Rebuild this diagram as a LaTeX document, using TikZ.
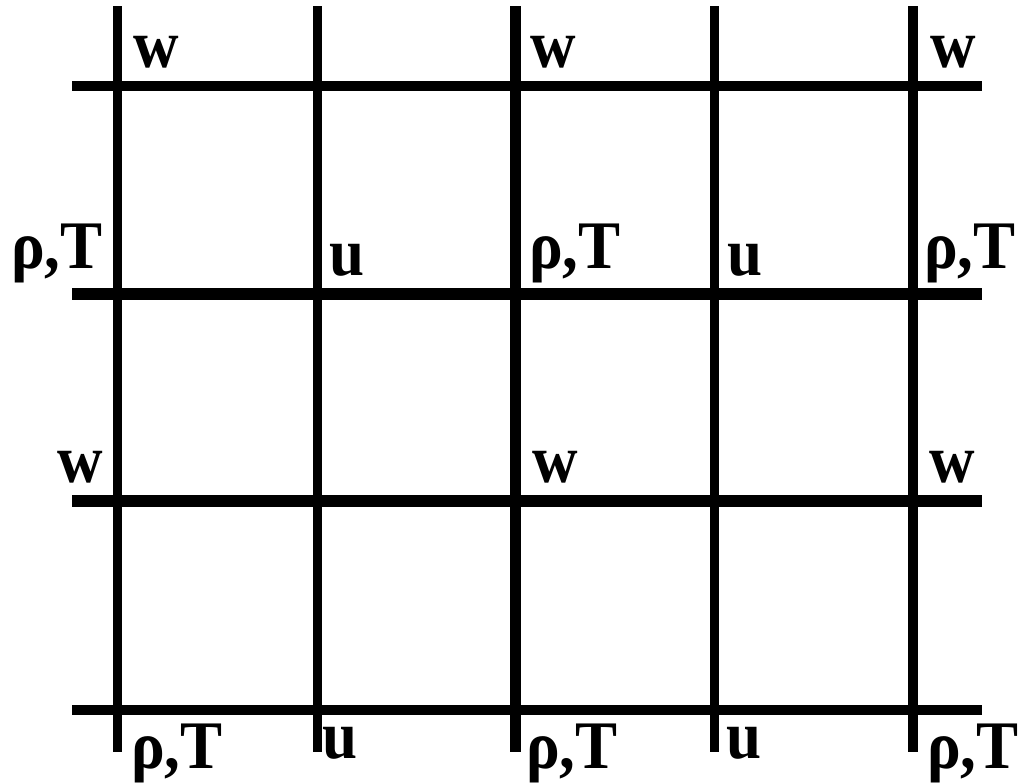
\documentclass[tikz,border=0pt]{standalone}
\usepackage{fontspec}
\usepackage{graphicx}
\setmainfont{Liberation Serif}
\newcommand{\tallt}[1]{\scalebox{1}[1.08]{#1}}
\begin{document}
\begin{tikzpicture}[x=1pt,y=-1pt,
  gridline/.style={line width=#1, line cap=butt, black},
  lbl/.style={anchor=base west, inner sep=0pt, outer sep=0pt, font=\fontsize{63}{63}\selectfont\bfseries}]
\useasboundingbox (0,0) rectangle (1022,782);
% vertical lines
\foreach \x/\w in {117/9pt, 317/9pt, 515/11pt, 714/9pt, 913/10pt}
  \draw[gridline=\w] (\x,6) -- (\x,752);
% horizontal lines
\foreach \y/\w in {86/10pt, 294/12pt, 501/12pt, 710/10pt}
  \draw[gridline=\w] (72,\y) -- (982,\y);
% top row
\node[lbl] (w1) at (133,67) {\tallt{w}};
\node[lbl] (w2) at (530,67) {\tallt{w}};
\node[lbl] (w3) at (930,67) {\tallt{w}};
% second row
\node[lbl] (rt1) at (11,268) {\tallt{ρ,T}};
\node[lbl] (u1) at (329,275) {\tallt{u}};
\node[lbl] (rt2) at (529,268) {\tallt{ρ,T}};
\node[lbl] (u2) at (727,275) {\tallt{u}};
\node[lbl] (rt3) at (924,268) {\tallt{ρ,T}};
% third row
\node[lbl] (w4) at (57,482) {\tallt{w}};
\node[lbl] (w5) at (532,482) {\tallt{w}};
\node[lbl] (w6) at (929,482) {\tallt{w}};
% bottom row
\node[lbl] (rt4) at (131,768) {\tallt{ρ,T}};
\node[lbl] (u3) at (322,758) {\tallt{u}};
\node[lbl] (rt5) at (526,768) {\tallt{ρ,T}};
\node[lbl] (u4) at (726,758) {\tallt{u}};
\node[lbl] (rt6) at (927,768) {\tallt{ρ,T}};
\end{tikzpicture}
\end{document}
